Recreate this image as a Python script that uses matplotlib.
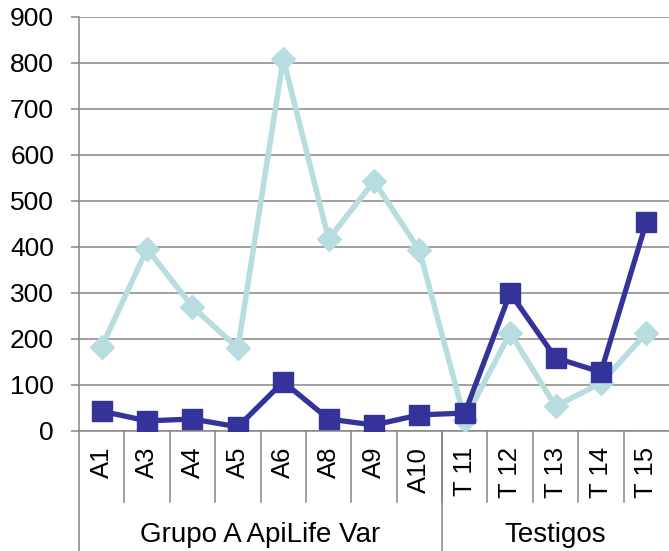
import matplotlib.pyplot as plt
import matplotlib.transforms as mtransforms

plt.rcParams['font.family'] = ['Liberation Sans', 'DejaVu Sans']

# datos
categorias = ['A1', 'A3', 'A4', 'A5', 'A6', 'A8', 'A9', 'A10',
              'T 11', 'T 12', 'T 13', 'T 14', 'T 15']
serie_clara = [183, 396, 270, 180, 809, 417, 543, 393, 25, 213, 54, 104, 213]
serie_oscura = [43, 22, 26, 9, 107, 26, 13, 35, 39, 300, 159, 128, 454]
grupos = ['Grupo A ApiLife Var', 'Testigos']
grupo_n = [8, 5]
y_ticks = list(range(0, 1000, 100))

gris = '#868686'

fig = plt.figure(figsize=(6.69, 5.51), dpi=100)
ax = fig.add_axes([79 / 669, 1 - 431 / 551, 590 / 669, 414 / 551])

x = list(range(len(categorias)))
ax.plot(x, serie_clara, color='#B7DDE0', lw=4, marker='D', ms=12,
        zorder=3)
ax.plot(x, serie_oscura, color='#333399', lw=3.8, marker='s', ms=14.5,
        zorder=4)

ax.set_xlim(-0.5, len(categorias) - 0.5)
ax.set_ylim(0, 900)
ax.set_yticks(y_ticks)
ax.set_xticks([])
ax.grid(axis='y', color=gris, lw=1.1)
ax.set_axisbelow(True)
ax.tick_params(axis='y', length=6, color=gris, width=1.1, pad=12,
               labelsize=19)

for s in ['top', 'right']:
    ax.spines[s].set_visible(False)
for s in ['left', 'bottom']:
    ax.spines[s].set_color(gris)
    ax.spines[s].set_linewidth(1.1)

trans = mtransforms.blended_transform_factory(ax.transData, ax.transAxes)

# etiquetas de categorias y separadores
for i, c in enumerate(categorias):
    ax.text(i, -0.038, c, transform=trans, rotation=90, ha='center',
            va='top', fontsize=18.5)
for i in range(len(categorias) - 1):
    ax.plot([i + 0.5, i + 0.5], [0, -0.1715], transform=trans, color=gris,
            lw=1.1, clip_on=False)

# separadores de grupo y nombres
ax.plot([-0.5, -0.5], [0, -0.3], transform=trans, color=gris, lw=1.1,
        clip_on=False)
inicio = 0
for g, n in zip(grupos, grupo_n):
    fin = inicio + n
    ax.text((inicio + fin - 1) / 2, -0.251, g, transform=trans, ha='center',
            va='center', fontsize=20)
    if fin < len(categorias):
        ax.plot([fin - 0.5, fin - 0.5], [0, -0.3], transform=trans,
                color=gris, lw=1.1, clip_on=False)
    inicio = fin

fig.savefig('out.png', dpi=100)
